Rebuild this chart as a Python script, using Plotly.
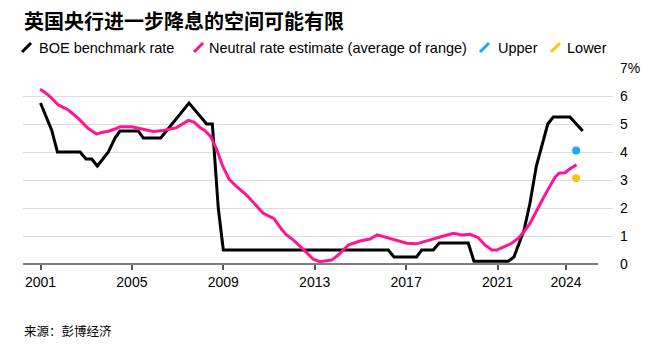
import plotly.graph_objects as go

# ---- data ----
boe_x = [2001.0, 2001.49, 2001.74, 2002.73, 2002.99, 2003.24, 2003.49, 2003.97, 2004.26, 2004.48,
         2005.28, 2005.5, 2006.26, 2007.5, 2008.27, 2008.52, 2008.78, 2009.0, 2016.22, 2016.47,
         2017.46, 2017.68, 2018.19, 2018.45, 2019.72, 2019.97, 2021.47, 2021.72, 2022.16, 2022.42,
         2022.7, 2023.2, 2023.44, 2024.17, 2024.73]
boe_y = [5.75, 4.78, 4.0, 4.0, 3.75, 3.75, 3.5, 4.0, 4.5, 4.75,
         4.75, 4.5, 4.5, 5.75, 5.0, 5.0, 2.0, 0.5, 0.5, 0.25,
         0.25, 0.5, 0.5, 0.75, 0.75, 0.1, 0.1, 0.25, 1.2, 2.17,
         3.5, 5.0, 5.25, 5.25, 4.75]

neutral_x = [2000.98, 2001.2, 2001.49, 2001.78, 2002.22, 2002.65, 2003.09, 2003.46, 2003.68, 2003.97,
             2004.26, 2004.48, 2004.99, 2005.5, 2005.94, 2006.37, 2006.96, 2007.47, 2007.72, 2007.98,
             2008.2, 2008.45, 2008.71, 2008.97, 2009.26, 2009.59, 2010.02, 2010.39, 2010.75, 2011.22,
             2011.55, 2011.77, 2012.06, 2012.5, 2012.94, 2013.23, 2013.74, 2014.03, 2014.47, 2014.98,
             2015.42, 2015.74, 2016.22, 2017.03, 2017.46, 2018.12, 2018.56, 2019.07, 2019.43, 2019.8,
             2020.16, 2020.45, 2020.75, 2020.96, 2021.33, 2021.62, 2021.91, 2022.16, 2022.42, 2022.68,
             2023.0, 2023.3, 2023.52, 2023.7, 2023.95, 2024.2, 2024.46]
neutral_y = [6.24, 6.13, 5.92, 5.68, 5.5, 5.2, 4.84, 4.64, 4.7, 4.74,
             4.82, 4.9, 4.9, 4.82, 4.73, 4.77, 4.87, 5.13, 5.07, 4.87,
             4.76, 4.55, 4.1, 3.5, 3.02, 2.76, 2.46, 2.13, 1.81, 1.62,
             1.24, 1.04, 0.86, 0.52, 0.17, 0.08, 0.14, 0.32, 0.68, 0.82,
             0.89, 1.04, 0.92, 0.74, 0.72, 0.89, 0.98, 1.1, 1.04, 1.06,
             0.94, 0.68, 0.5, 0.5, 0.64, 0.74, 0.92, 1.15, 1.45, 1.87,
             2.35, 2.79, 3.1, 3.24, 3.26, 3.42, 3.54]

upper_x = [2024.44]
upper_y = [4.05]
lower_x = [2024.44]
lower_y = [3.06]

x_ticks = [2001, 2005, 2009, 2013, 2017, 2021, 2024]
x_ticklabels = ["2001", "2005", "2009", "2013", "2017", "2021", "2024"]
y_ticks = [0, 1, 2, 3, 4, 5, 6, 7]
y_ticklabels = ["0", "1", "2", "3", "4", "5", "6", "7%"]

title_text = "英国央行进一步降息的空间可能有限"
source_text = "来源：彭博经济"
legend_names = ["BOE benchmark rate", "Neutral rate estimate (average of range)", "Upper", "Lower"]

# ---- styles ----
BLACK = "#000000"
PINK = "#ff1593"
BLUE = "#18aaf5"
YELLOW = "#ffc20e"
FONT = "Liberation Sans, Arial, sans-serif"
CJK = "Noto Sans CJK SC, sans-serif"

W, H = 657, 351
ML, MR, MT, MB = 23, 44, 68, 87
PW = W - ML - MR
PH = H - MT - MB


def px(x):
    return (x - ML) / PW


def py(y):
    return (H - MB - y) / PH


fig = go.Figure()
fig.add_trace(go.Scatter(x=boe_x, y=boe_y, mode="lines", line=dict(color=BLACK, width=3),
                         name=legend_names[0], showlegend=False))
fig.add_trace(go.Scatter(x=neutral_x, y=neutral_y, mode="lines", line=dict(color=PINK, width=3),
                         name=legend_names[1], showlegend=False))
fig.add_trace(go.Scatter(x=upper_x, y=upper_y, mode="markers", marker=dict(color=BLUE, size=8),
                         name=legend_names[2], showlegend=False))
fig.add_trace(go.Scatter(x=lower_x, y=lower_y, mode="markers", marker=dict(color=YELLOW, size=8),
                         name=legend_names[3], showlegend=False))

shapes = []
annotations = []

# baseline (x axis line), stops short of right edge
shapes.append(dict(type="line", xref="paper", yref="paper", x0=0, x1=px(598), y0=0, y1=0,
                   line=dict(color="#555555", width=1.5), layer="above"))

# custom legend
legend_items = [
    (BLACK, 22, 37, legend_names[0]),
    (PINK, 194, 207, legend_names[1]),
    (BLUE, 480, 496, legend_names[2]),
    (YELLOW, 551, 565, legend_names[3]),
]
for color, icon_x, text_x, name in legend_items:
    shapes.append(dict(type="line", xref="paper", yref="paper",
                       x0=px(icon_x), y0=py(52), x1=px(icon_x + 9), y1=py(43),
                       line=dict(color=color, width=3)))
    annotations.append(dict(text=name, xref="paper", yref="paper", x=px(text_x), y=py(47.5),
                            xanchor="left", yanchor="middle", showarrow=False,
                            font=dict(family=FONT, size=14.5, color="#000000")))

annotations.append(dict(text="<b>" + title_text + "</b>", xref="paper", yref="paper",
                        x=px(22), y=py(21), xanchor="left", yanchor="middle", showarrow=False,
                        font=dict(family=CJK, size=20, color="#000000")))
annotations.append(dict(text=source_text, xref="paper", yref="paper",
                        x=px(22), y=py(330), xanchor="left", yanchor="middle", showarrow=False,
                        font=dict(family=CJK, size=12.5, color="#000000")))

x_left = 2001 + (ML - 40.5) / 22.85
x_right = 2001 + (W - MR - 40.5) / 22.85

fig.update_layout(
    width=W, height=H,
    margin=dict(l=ML, r=MR, t=MT, b=MB),
    paper_bgcolor="white", plot_bgcolor="white",
    showlegend=False,
    shapes=shapes,
    annotations=annotations,
    xaxis=dict(range=[x_left, x_right], tickvals=x_ticks, ticktext=x_ticklabels,
               ticks="outside", ticklen=5, tickcolor="#555555", tickwidth=1.5,
               showline=False, showgrid=False, zeroline=False,
               tickfont=dict(family=FONT, size=14, color="#000000")),
    yaxis=dict(range=[0, 7], tickvals=y_ticks, ticktext=y_ticklabels, side="right",
               showgrid=True, gridcolor="#dcdcdc", gridwidth=1, zeroline=False,
               showline=False, ticks="", ticklabelstandoff=6,
               tickfont=dict(family=FONT, size=14, color="#000000")),
)

fig.write_html("out.html")
